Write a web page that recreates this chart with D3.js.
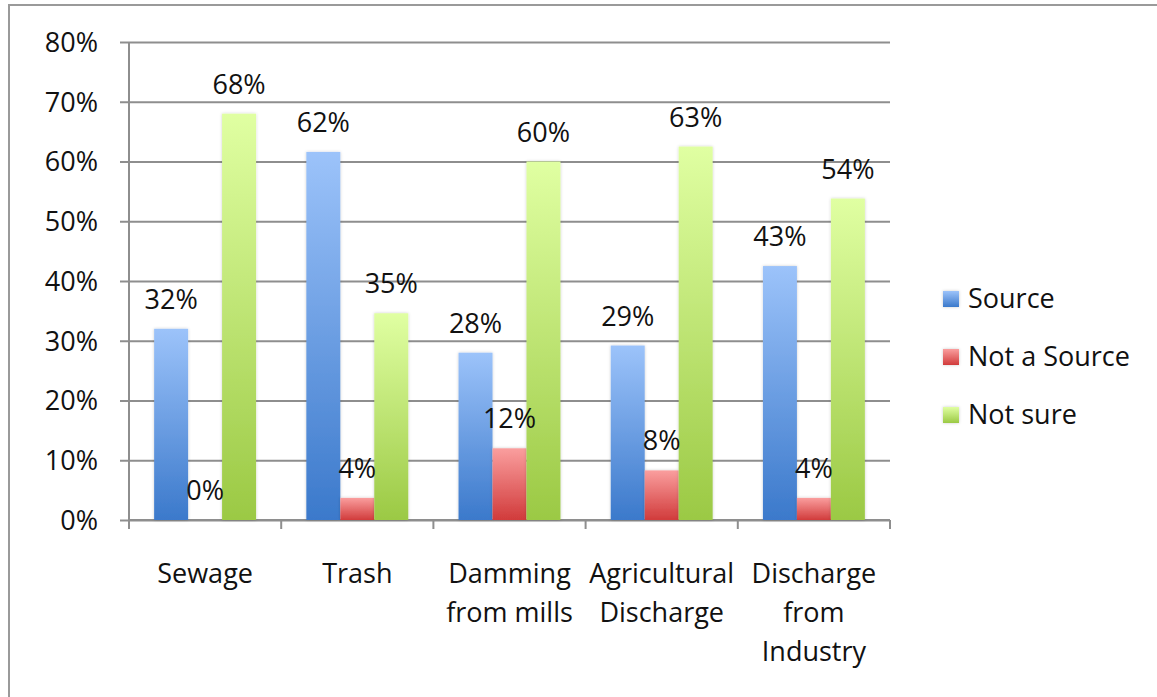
<!DOCTYPE html>
<meta charset="utf-8">
<html>
<head>
  <script src="https://d3js.org/d3.v7.min.js"></script>
  <style>
    body { margin: 0; background: #fff; }
    text { font-family: "Open Sans", "Noto Sans", sans-serif; fill: #111; }
  </style>
</head>
<body>
<div id="chart"></div>
<script>
  // data
  const categories = ["Sewage", "Trash", "Damming from mills", "Agricultural Discharge", "Discharge from Industry"];
  const categoryLines = [["Sewage"], ["Trash"], ["Damming", "from mills"], ["Agricultural", "Discharge"], ["Discharge", "from", "Industry"]];
  const seriesNames = ["Source", "Not a Source", "Not sure"];
  const sourceValues = [32, 61.6, 28, 29.2, 42.5];
  const notSourceValues = [0, 3.7, 12, 8.3, 3.7];
  const notSureValues = [68, 34.6, 60, 62.5, 53.8];
  const sourceLabels = ["32%", "62%", "28%", "29%", "43%"];
  const notSourceLabels = ["0%", "4%", "12%", "8%", "4%"];
  const notSureLabels = ["68%", "35%", "60%", "63%", "54%"];
  const yTicks = [0, 10, 20, 30, 40, 50, 60, 70, 80];

  const W = 1157, H = 697;
  const plot = {left: 129, right: 890, top: 42, bottom: 520};
  const fs = "27px";

  const svg = d3.select("#chart").append("svg")
    .attr("width", W).attr("height", H);

  // gradients + shadow
  const defs = svg.append("defs");
  const grads = [
    {id: "g0", top: "#9cc3fa", bottom: "#3b79cb"},
    {id: "g1", top: "#fa9e9e", bottom: "#d13b3b"},
    {id: "g2", top: "#e0ffa2", bottom: "#9bc944"}
  ];
  grads.forEach(g => {
    const lg = defs.append("linearGradient").attr("id", g.id)
      .attr("x1", 0).attr("y1", 0).attr("x2", 0).attr("y2", 1);
    lg.append("stop").attr("offset", "0%").attr("stop-color", g.top);
    lg.append("stop").attr("offset", "100%").attr("stop-color", g.bottom);
  });
  defs.append("filter").attr("id", "shadow")
    .attr("x", "-30%").attr("y", "-30%").attr("width", "160%").attr("height", "160%")
    .append("feDropShadow").attr("dx", 0).attr("dy", 0)
    .attr("stdDeviation", 1.5).attr("flood-color", "#000").attr("flood-opacity", 0.2);

  // outer frame
  svg.append("rect")
    .attr("x", 9).attr("y", 5).attr("width", W + 20).attr("height", H + 20)
    .attr("fill", "none").attr("stroke", "#9a9a9a").attr("stroke-width", 2);

  // scales
  const y = d3.scaleLinear().domain([0, 80]).range([plot.bottom, plot.top]);
  const x0 = d3.scaleBand().domain(categories).range([plot.left, plot.right]).paddingInner(0);
  const x1 = d3.scaleBand().domain(seriesNames).range([0, x0.bandwidth()]).paddingInner(0).paddingOuter(0.74);

  // gridlines
  svg.append("g")
    .attr("transform", `translate(${plot.left},0)`)
    .call(d3.axisLeft(y).tickValues(yTicks).tickSize(-(plot.right - plot.left)).tickFormat(""))
    .call(g => g.select(".domain").remove())
    .call(g => g.selectAll("line").attr("stroke", "#8e8e8e").attr("stroke-width", 2));

  // y axis with outer ticks
  const yAxis = svg.append("g")
    .attr("transform", `translate(${plot.left},0)`)
    .call(d3.axisLeft(y).tickValues(yTicks).tickSize(9).tickPadding(22).tickFormat(d => d + "%"));
  yAxis.select(".domain").attr("d", `M0,${plot.top}V${plot.bottom}`).attr("stroke", "#8e8e8e").attr("stroke-width", 2);
  yAxis.selectAll("line").attr("stroke", "#8e8e8e").attr("stroke-width", 2);
  yAxis.selectAll("text").style("font-size", fs).attr("fill", "#111").attr("dy", "0.35em");

  // x axis boundary ticks
  const bounds = categories.map(c => x0(c)).concat([plot.right]);
  svg.append("g").selectAll("line").data(bounds).join("line")
    .attr("x1", d => d).attr("x2", d => d)
    .attr("y1", plot.bottom).attr("y2", plot.bottom + 9)
    .attr("stroke", "#8e8e8e").attr("stroke-width", 2);
  svg.append("line")
    .attr("x1", plot.left).attr("x2", plot.right)
    .attr("y1", plot.bottom).attr("y2", plot.bottom)
    .attr("stroke", "#8e8e8e").attr("stroke-width", 2);

  // bars
  const seriesValues = [sourceValues, notSourceValues, notSureValues];
  const seriesLabels = [sourceLabels, notSourceLabels, notSureLabels];
  const rows = [];
  categories.forEach((c, i) => {
    seriesNames.forEach((s, j) => {
      rows.push({cat: c, ser: s, j: j, value: seriesValues[j][i], label: seriesLabels[j][i]});
    });
  });

  svg.append("g").selectAll("rect").data(rows.filter(d => d.value > 0)).join("rect")
    .attr("x", d => x0(d.cat) + x1(d.ser))
    .attr("y", d => y(d.value))
    .attr("width", x1.bandwidth())
    .attr("height", d => y(0) - y(d.value))
    .attr("fill", d => `url(#g${d.j})`)
    .attr("filter", "url(#shadow)");

  // value labels
  svg.append("g").selectAll("text").data(rows).join("text")
    .attr("x", d => x0(d.cat) + x1(d.ser) + x1.bandwidth() / 2)
    .attr("y", d => y(d.value) - 20)
    .attr("text-anchor", "middle")
    .style("font-size", fs)
    .text(d => d.label);

  // category labels
  const catG = svg.append("g");
  categories.forEach((c, i) => {
    const t = catG.append("text")
      .attr("x", x0(c) + x0.bandwidth() / 2)
      .attr("y", 583)
      .attr("text-anchor", "middle")
      .style("font-size", fs);
    categoryLines[i].forEach((line, k) => {
      t.append("tspan").attr("x", x0(c) + x0.bandwidth() / 2)
        .attr("dy", k === 0 ? 0 : 39).text(line);
    });
  });

  // legend
  const legend = svg.append("g").attr("transform", "translate(943,299)");
  seriesNames.forEach((s, j) => {
    const g = legend.append("g").attr("transform", `translate(0,${j * 58})`);
    g.append("rect").attr("x", 0).attr("y", -8).attr("width", 16).attr("height", 16)
      .attr("fill", `url(#g${j})`).attr("filter", "url(#shadow)");
    g.append("text").attr("x", 25).attr("y", 0).attr("dy", "0.35em")
      .style("font-size", fs).text(s);
  });
</script>
</body>
</html>
